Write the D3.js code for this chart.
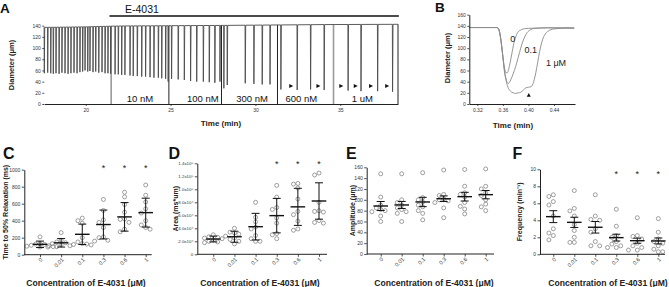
<!DOCTYPE html>
<html>
<head>
<meta charset="utf-8">
<script src="https://cdn.jsdelivr.net/npm/d3@7"></script>
<style>
  body { margin: 0; background: #fff; }
  svg { display: block; }
  text { font-family: "Liberation Sans", Arial, sans-serif; }
</style>
</head>
<body>
<div id="fig"></div>
<script>
// ---------- Panel A : diameter trace (min, um) ----------
const baseTrace = [[17.56, 137], [20, 138], [22, 139.5], [25, 140], [28, 140.5], [30, 141], [34, 142], [38.4, 142.5]];
const eventTimes = [
  17.56, 17.76, 17.94, 18.09, 18.25, 18.43, 18.60, 18.78, 18.96, 19.13, 19.31, 19.49,
  19.66, 19.82, 19.96, 20.12, 20.25, 20.43, 20.59, 20.77, 20.96, 21.14, 21.31, 21.47,
  21.73, 21.92, 22.12, 22.31, 22.61, 22.80, 23.04, 23.30, 23.53, 23.79, 24.02, 24.28, 24.48, 24.71,
  24.86, 25.06, 25.45, 25.81, 26.18, 26.54, 26.93, 27.28, 27.61, 27.91,
  28.14, 28.34, 29.40, 29.91, 30.40, 30.86,
  31.50, 32.46, 33.25, 34.05,
  35.46, 36.22, 37.20, 38.08
];
const eventMins = [
  55, 56, 55, 54, 55, 54, 56, 55, 54, 55, 56, 55,
  57, 58, 60, 58, 59, 57, 58, 56, 57, 55, 55, 54,
  53, 53, 52, 52, 51, 50, 50, 49, 49, 48, 47, 47, 46, 45,
  40, 45, 44, 43, 41, 40, 40, 39, 38, 40,
  28, 34, 37, 36, 35, 35,
  26, 25, 26, 25,
  24, 23, 23, 22
];
const dividerTimes = [21.5, 24.9, 28.0, 31.3, 34.6, 38.4];
const doseLabels = ["10 nM", "100 nM", "300 nM", "600 nM", "1 uM"];
const doseLabelTimes = [23.2, 26.9, 29.8, 32.7, 36.3];
const arrowTimes = [32.1, 33.7, 35.05, 35.9, 36.8, 37.75];
const timeTicksA = [20, 25, 30, 35];
const diamTicksA = [0, 20, 40, 60, 80, 100, 120, 140];

// ---------- Panel B : single contractions ----------
const sharedDrop = [[0.3075, 137], [0.33, 137], [0.350, 137], [0.3525, 136], [0.355, 128], [0.358, 105], [0.360, 85]];
const curve0 = [[0.3625, 65], [0.365, 56], [0.367, 56], [0.369, 62], [0.371, 72], [0.374, 90], [0.377, 108],
  [0.380, 120], [0.383, 128], [0.387, 132], [0.392, 134.5], [0.40, 135.5], [0.41, 136], [0.43, 136.5], [0.4716, 136]];
const curve01 = [[0.3625, 60], [0.365, 45], [0.367, 38], [0.369, 37], [0.371, 40], [0.374, 48], [0.378, 60],
  [0.382, 75], [0.386, 92], [0.390, 108], [0.394, 120], [0.398, 128], [0.403, 133], [0.41, 135.5], [0.43, 136.5], [0.4716, 136]];
const curve1 = [[0.3625, 58], [0.365, 42], [0.368, 30], [0.372, 23], [0.376, 20], [0.380, 19], [0.384, 20],
  [0.388, 21], [0.392, 25], [0.396, 29], [0.400, 30], [0.404, 31], [0.407, 36], [0.410, 48], [0.413, 65],
  [0.416, 85], [0.419, 102], [0.422, 115], [0.426, 125], [0.430, 130], [0.435, 133], [0.44, 134.5],
  [0.45, 135.5], [0.46, 136.5], [0.4716, 136]];
const curveLabels = ["0", "0.1", "1 \u03bcM"];
const timeTicksB = [0.32, 0.36, 0.40, 0.44];
const diamTicksB = [0, 20, 40, 60, 80, 100, 120, 140, 160];

// ---------- Panels C-F : dose response ----------
const cats = ["0", "0.01", "0.1", "0.3", "0.6", "1"];

const cPts = [
  [210, 130, 125, 120, 110, 105, 100, 95, 90],
  [260, 170, 150, 140, 130, 115, 105, 95, 90],
  [430, 400, 370, 200, 150, 130, 125, 120, 115],
  [650, 520, 410, 380, 320, 210, 200, 170, 160],
  [735, 680, 590, 500, 420, 415, 380, 300, 270],
  [820, 700, 620, 540, 490, 400, 350, 320, 300]
];
const cMean = [122, 140, 240, 355, 445, 495];
const cErr = [38, 50, 120, 170, 168, 170];
const cSig = ["", "", "", "*", "*", "*"];

// area in units of 1e4 ms*um
const dPts = [
  [3.0, 2.7, 2.6, 2.5, 2.4, 2.2, 2.0, 1.9, 1.8],
  [4.0, 3.4, 3.3, 3.1, 2.8, 2.5, 2.3, 2.0, 1.6],
  [8.0, 5.7, 5.0, 4.2, 3.9, 2.9, 2.4, 2.0, 2.0],
  [10.6, 8.8, 7.2, 6.9, 5.6, 4.8, 3.2, 3.0, 2.4],
  [10.9, 10.8, 10.2, 8.5, 6.6, 6.1, 5.1, 3.9, 3.7],
  [12.5, 12.2, 8.0, 6.7, 6.6, 6.5, 5.2, 4.9, 4.8]
];
const dMean = [2.35, 2.7, 4.25, 5.95, 7.3, 8.2];
const dErr = [0.45, 0.85, 2.05, 2.65, 2.85, 2.8];
const dSig = ["", "", "", "*", "*", "*"];

const ePts = [
  [148, 105, 90, 85, 82, 80, 78, 70, 60],
  [148, 100, 95, 90, 85, 82, 78, 75, 60],
  [150, 104, 100, 96, 90, 87, 80, 75, 63],
  [155, 110, 108, 102, 100, 98, 95, 85, 67],
  [156, 125, 113, 110, 105, 95, 88, 83, 74],
  [157, 125, 120, 113, 108, 100, 92, 87, 80]
];
const eMean = [88.6, 90.5, 96, 102, 105.8, 109.5];
const eErr = [8.3, 6.5, 8.6, 5.2, 8, 7.7];
const eSig = ["", "", "", "", "", ""];

const fPts = [
  [7.0, 6.8, 6.2, 5.8, 4.5, 3.0, 2.5, 2.2, 1.7],
  [7.5, 5.4, 5.1, 4.5, 3.5, 2.8, 2.0, 1.4, 1.4],
  [7.0, 4.5, 4.1, 4.0, 3.0, 2.6, 1.5, 1.0, 1.0],
  [5.3, 3.3, 2.2, 2.0, 1.5, 1.2, 1.0, 0.8, 0.8],
  [4.3, 2.2, 2.1, 1.8, 1.3, 1.0, 0.8, 0.5, 0.5],
  [4.2, 2.6, 1.8, 1.5, 1.3, 1.0, 0.6, 0.3, 0.3]
];
const fMean = [4.43, 3.76, 3.18, 1.96, 1.6, 1.57];
const fErr = [0.7, 0.6, 0.68, 0.4, 0.3, 0.35];
const fSig = ["", "", "", "*", "*", "*"];

// ------------------------------------------------------------
const svg = d3.select("#fig").append("svg")
  .attr("width", 669).attr("height", 287);
svg.append("rect").attr("width", 669).attr("height", 287).attr("fill", "#fff");

function styleAxis(g, size) {
  g.selectAll("path.domain").attr("stroke", "#222").attr("stroke-width", 1);
  g.selectAll(".tick line").attr("stroke", "#222").attr("stroke-width", 0.8);
  g.selectAll(".tick text").attr("font-size", size).attr("fill", "#333")
    .attr("font-family", "Liberation Sans, Arial, sans-serif");
}

function panelLetter(txt, x, y, size) {
  svg.append("text").attr("x", x).attr("y", y).attr("font-size", size)
    .attr("font-weight", "bold").attr("fill", "#111").text(txt);
}

function rotTitle(txt, x, y, size) {
  svg.append("text").attr("transform", `translate(${x},${y}) rotate(-90)`)
    .attr("text-anchor", "middle").attr("font-size", size).attr("font-weight", "bold")
    .attr("fill", "#222").text(txt);
}

// ---------------- Panel A ----------------
(function drawA() {
  const x = d3.scaleLinear().domain([17.56, 38.4]).range([44.3, 398]);
  const y = d3.scaleLinear().domain([0, 140]).range([104, 25.7]);
  const baseAt = d3.scaleLinear().domain(baseTrace.map(d => d[0])).range(baseTrace.map(d => d[1])).clamp(true);

  const pts = [baseTrace[0]];
  eventTimes.forEach((t, i) => {
    const b = baseAt(t);
    pts.push([t - 0.012, b], [t, eventMins[i]], [t + 0.025, b]);
  });
  pts.push(baseTrace[baseTrace.length - 1]);

  // dose separators
  svg.selectAll(".divA").data(dividerTimes).enter().append("line")
    .attr("x1", d => x(d)).attr("x2", d => x(d))
    .attr("y1", y(0)).attr("y2", d => y(baseAt(d)))
    .attr("stroke", (d, i) => (i === 0 || i === 4) ? "#9a9a9a" : "#222")
    .attr("stroke-width", (d, i) => (i === 0 || i === 4) ? 1.6 : 1);

  svg.append("path").datum(pts)
    .attr("d", d3.line().x(d => x(d[0])).y(d => y(d[1])))
    .attr("fill", "none").attr("stroke", "#4a4a4a").attr("stroke-width", 0.9);

  // axes
  const gx = svg.append("g").attr("transform", `translate(0,${y(0)})`)
    .call(d3.axisBottom(x).tickValues(timeTicksA).tickSize(2).tickSizeOuter(0).tickPadding(2));
  styleAxis(gx, 5);
  const gy = svg.append("g").attr("transform", `translate(${x.range()[0]},0)`)
    .call(d3.axisLeft(y).tickValues(diamTicksA).tickSize(2).tickSizeOuter(0).tickPadding(1.5));
  styleAxis(gy, 5);
  gy.select("path.domain").attr("stroke", "none");

  // E-4031 bar
  svg.append("line").attr("x1", x(21.4)).attr("x2", x(38.45))
    .attr("y1", 16).attr("y2", 16).attr("stroke", "#111").attr("stroke-width", 1.4);
  svg.append("text").attr("x", 125).attr("y", 13).attr("font-size", 10.5)
    .attr("font-family", "Open Sans, Liberation Sans, sans-serif").attr("fill", "#111").text("E-4031");

  svg.selectAll(".doseA").data(doseLabels).enter().append("text")
    .attr("x", (d, i) => x(doseLabelTimes[i])).attr("y", 101.5)
    .attr("text-anchor", "middle").attr("font-size", 9.5)
    .attr("font-family", "Open Sans, Liberation Sans, sans-serif").attr("fill", "#111")
    .text(d => d);

  svg.selectAll(".arrA").data(arrowTimes).enter().append("path")
    .attr("d", d => {
      const cx = x(d), cy = y(32);
      return `M${cx - 1.8},${cy - 2}L${cx + 2.2},${cy}L${cx - 1.8},${cy + 2}Z`;
    })
    .attr("fill", "#111");

  rotTitle("Diameter (\u03bcm)", 14, 65, 7.5);
  svg.append("text").attr("x", 221).attr("y", 126).attr("text-anchor", "middle")
    .attr("font-size", 8).attr("font-weight", "bold").attr("fill", "#222").text("Time  (min)");
  panelLetter("A", 0, 12.5, 13.5);
})();

// ---------------- Panel B ----------------
(function drawB() {
  const x = d3.scaleLinear().domain([0.3075, 0.4728]).range([469.3, 575]);
  const y = d3.scaleLinear().domain([0, 160]).range([104, 14.7]);
  const line = d3.line().x(d => x(d[0])).y(d => y(d[1])).curve(d3.curveMonotoneX);

  [curve1, curve01, curve0].forEach(c => {
    svg.append("path").datum(sharedDrop.concat(c)).attr("d", line)
      .attr("fill", "none").attr("stroke", "#8a8a8a").attr("stroke-width", 0.9);
  });

  const gx = svg.append("g").attr("transform", `translate(0,${y(0)})`)
    .call(d3.axisBottom(x).tickValues(timeTicksB).tickFormat(d3.format(".2f")).tickSize(2).tickSizeOuter(0).tickPadding(2.5));
  styleAxis(gx, 5);
  const gy = svg.append("g").attr("transform", `translate(${x.range()[0]},0)`)
    .call(d3.axisLeft(y).tickValues(diamTicksB).tickSize(2).tickSizeOuter(0).tickPadding(1.5));
  styleAxis(gy, 5);

  const lblPos = [[512.7, 41.5], [530.7, 52.5], [556, 65.5]];
  svg.selectAll(".lblB").data(curveLabels).enter().append("text")
    .attr("x", (d, i) => lblPos[i][0]).attr("y", (d, i) => lblPos[i][1])
    .attr("text-anchor", "middle").attr("font-size", 9).attr("fill", "#222").text(d => d);

  const tx = x(0.4005), ty = y(16);
  svg.append("path").attr("d", `M${tx - 2},${ty + 1.8}L${tx},${ty - 2}L${tx + 2},${ty + 1.8}Z`).attr("fill", "#111");

  rotTitle("Diameter (\u03bcm)", 450, 58, 7.5);
  svg.append("text").attr("x", 513).attr("y", 128).attr("text-anchor", "middle")
    .attr("font-size", 8).attr("font-weight", "bold").attr("fill", "#222").text("Time  (min)");
  panelLetter("B", 435, 11.7, 13.5);
})();

// ---------------- Panels C-F ----------------
function dotPanel(cfg) {
  const x = d3.scalePoint().domain(cats).range([cfg.c0, cfg.c1]);
  const y = d3.scaleLinear().domain([0, cfg.yMax]).range([cfg.y0, cfg.yTop]);
  const g = svg.append("g");

  // simple deterministic dodge so circles don't overlap
  cfg.pts.forEach((vals, ci) => {
    const placed = [];
    const cx = x(cats[ci]);
    vals.slice().sort((a, b) => b - a).forEach(v => {
      const py = y(v);
      const offs = [0, -4.4, 4.4, -8.8, 8.8, -13.2, 13.2];
      let px = cx;
      for (const o of offs) {
        const ok = placed.every(p => Math.hypot(p[0] - (cx + o), p[1] - py) > 4.3);
        if (ok) { px = cx + o; break; }
      }
      placed.push([px, py]);
    });
    g.selectAll(null).data(placed).enter().append("circle")
      .attr("cx", d => d[0]).attr("cy", d => d[1]).attr("r", 2)
      .attr("fill", "none").attr("stroke", "#777").attr("stroke-width", 0.7);
  });

  // mean and error bars
  cats.forEach((c, i) => {
    const cx = x(c), m = cfg.mean[i], e = cfg.err[i];
    g.append("line").attr("x1", cx).attr("x2", cx).attr("y1", y(m - e)).attr("y2", y(m + e))
      .attr("stroke", "#111").attr("stroke-width", 1);
    [m - e, m + e].forEach(v => g.append("line").attr("x1", cx - 4).attr("x2", cx + 4)
      .attr("y1", y(v)).attr("y2", y(v)).attr("stroke", "#111").attr("stroke-width", 1));
    g.append("line").attr("x1", cx - 7.3).attr("x2", cx + 7.3).attr("y1", y(m)).attr("y2", y(m))
      .attr("stroke", "#111").attr("stroke-width", 1.4);
  });

  g.selectAll(".sig").data(cfg.sig).enter().append("text")
    .attr("x", (d, i) => x(cats[i])).attr("y", cfg.starY + 4)
    .attr("text-anchor", "middle").attr("font-size", 9).attr("fill", "#222").text(d => d);

  // axes
  const gy = g.append("g").attr("transform", `translate(${cfg.x0},0)`)
    .call(d3.axisLeft(y).tickValues(cfg.yTicks).tickFormat(cfg.fmt).tickSize(2.5).tickSizeOuter(0).tickPadding(1.5));
  styleAxis(gy, cfg.tickSize || 5);

  g.append("line").attr("x1", cfg.x0).attr("x2", cfg.x1).attr("y1", y(0)).attr("y2", y(0))
    .attr("stroke", "#222").attr("stroke-width", 1);
  const gx = g.append("g").attr("transform", `translate(0,${y(0)})`)
    .call(d3.axisBottom(x).tickSize(2.5).tickSizeOuter(0).tickPadding(2));
  styleAxis(gx, 5.5);
  gx.select("path.domain").remove();
  gx.selectAll(".tick text").attr("text-anchor", "end").attr("dy", null).attr("y", 0)
    .attr("transform", "translate(2.5,5.5) rotate(-45)");

  rotTitle(cfg.title, cfg.titleX, (cfg.y0 + cfg.yTop) / 2, 7);
  g.append("text").attr("x", cfg.xTitleX).attr("y", 285.5).attr("text-anchor", "middle")
    .attr("font-size", 8.6).attr("font-weight", "bold").attr("fill", "#222")
    .text("Concentration of E-4031 (\u03bcM)");
  panelLetter(cfg.letter, cfg.letterX, 158.5, 16);
}

const sup = { 4: "\u2074", 5: "\u2075" };
function sciFmt(v) {
  if (v === 0) return "0";
  return v < 10 ? v.toFixed(1) + "x10" + sup[4] : (v / 10).toFixed(1) + "x10" + sup[5];
}

dotPanel({ letter: "C", pts: cPts, mean: cMean, err: cErr, sig: cSig, yMax: 1000,
  yTicks: d3.range(0, 1001, 200), fmt: d3.format("d"), title: "Time to 50% Relaxation (ms)",
  x0: 24.3, x1: 151.7, c0: 40, c1: 145.7, y0: 254.7, yTop: 169.7, starY: 167.3,
  titleX: 7.5, xTitleX: 86, letterX: 3 });

dotPanel({ letter: "D", pts: dPts, mean: dMean, err: dErr, sig: dSig, yMax: 14,
  yTicks: d3.range(0, 14.1, 2), fmt: sciFmt, tickSize: 4.4, title: "Area (ms*um)",
  x0: 197.3, x1: 327, c0: 213.3, c1: 319, y0: 254.3, yTop: 163.3, starY: 163.3,
  titleX: 178, xTitleX: 260, letterX: 168.5 });

dotPanel({ letter: "E", pts: ePts, mean: eMean, err: eErr, sig: eSig, yMax: 160,
  yTicks: d3.range(0, 161, 20), fmt: d3.format("d"), title: "Amplitude (\u03bcm)",
  x0: 366.7, x1: 494, c0: 380.7, c1: 485.7, y0: 254, yTop: 167.3, starY: 167,
  titleX: 354.5, xTitleX: 434, letterX: 346 });

dotPanel({ letter: "F", pts: fPts, mean: fMean, err: fErr, sig: fSig, yMax: 10,
  yTicks: d3.range(0, 11, 2), fmt: d3.format("d"), title: "Frequency (min\u207b\u00b9)",
  x0: 540, x1: 665, c0: 553.3, c1: 658.3, y0: 254.3, yTop: 169.3, starY: 173.3,
  titleX: 522, xTitleX: 608, letterX: 512.5 });
</script>
</body>
</html>
